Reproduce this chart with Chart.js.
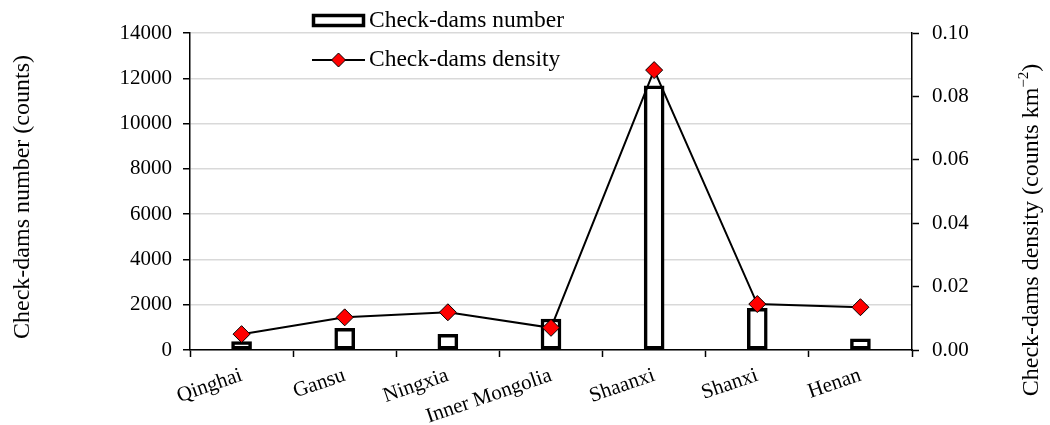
<!DOCTYPE html>
<html>
<head>
<meta charset="utf-8">
<script src="https://cdn.jsdelivr.net/npm/chart.js@4"></script>
<style>
    html, body { margin: 0; padding: 0; background: #fff; }
    #wrap { width: 1050px; height: 425px; position: relative; }
</style>
</head>
<body>
<div id="wrap"><canvas id="myChart" width="1050" height="425"></canvas></div>
<script>
const provinces = ["Qinghai", "Gansu", "Ningxia", "Inner Mongolia", "Shaanxi", "Shanxi", "Henan"];
const damsNumber = [370, 960, 690, 1370, 11670, 1840, 490];
const damsDensity = [0.0050, 0.0103, 0.0119, 0.0070, 0.0883, 0.0145, 0.0135];
const leftTicks = [0, 2000, 4000, 6000, 8000, 10000, 12000, 14000];
const rightTicks = [0, 0.02, 0.04, 0.06, 0.08, 0.10];

const FONT = "'Liberation Serif', 'Times New Roman', serif";

// legend + axis titles drawn by hand
const extras = {
    id: "extras",
    afterDraw(chart) {
        const c = chart.ctx;
        c.save();
        c.fillStyle = "#000";
        c.font = "23.5px " + FONT;
        c.textBaseline = "middle";
        c.textAlign = "left";

        // legend: bar item
        c.fillStyle = "#fff";
        c.fillRect(312, 14, 53, 13);
        c.strokeStyle = "#000";
        c.lineWidth = 3.5;
        c.strokeRect(313.5, 15.5, 50, 10);
        c.fillStyle = "#000";
        c.fillText("Check-dams number", 369, 21);

        // legend: line item
        c.lineWidth = 2;
        c.beginPath();
        c.moveTo(312, 60);
        c.lineTo(365, 60);
        c.stroke();
        c.beginPath();
        c.moveTo(338.5, 53);
        c.lineTo(345.5, 60);
        c.lineTo(338.5, 67);
        c.lineTo(331.5, 60);
        c.closePath();
        c.fillStyle = "#ff0000";
        c.fill();
        c.lineWidth = 1;
        c.stroke();
        c.fillStyle = "#000";
        c.fillText("Check-dams density", 369, 60);

        // left title
        c.save();
        c.translate(23, 197);
        c.rotate(-Math.PI / 2);
        c.textAlign = "center";
        c.font = "24px " + FONT;
        c.fillText("Check-dams number (counts)", 0, 0);
        c.restore();

        // right title with superscript
        c.save();
        c.translate(1032, 230);
        c.rotate(-Math.PI / 2);
        c.font = "24px " + FONT;
        const main = "Check-dams density (counts km";
        const sup = "\u22122";
        const close = ")";
        const wMain = c.measureText(main).width;
        c.font = "15px " + FONT;
        const wSup = c.measureText(sup).width;
        c.font = "24px " + FONT;
        const wClose = c.measureText(close).width;
        let x = -(wMain + wSup + wClose) / 2;
        c.textAlign = "left";
        c.fillText(main, x, 0);
        x += wMain;
        c.font = "15px " + FONT;
        c.fillText(sup, x, -8);
        x += wSup;
        c.font = "24px " + FONT;
        c.fillText(close, x, 0);
        c.restore();

        c.restore();
    }
};

const ctx = document.getElementById("myChart").getContext("2d");

const chart = new Chart(ctx, {
    type: "bar",
    data: {
        labels: provinces,
        datasets: [
            {
                type: "line",
                label: "Check-dams density",
                data: damsDensity,
                yAxisID: "y1",
                borderColor: "#000",
                borderWidth: 2,
                pointStyle: "rectRot",
                pointRadius: 8.5,
                pointBackgroundColor: "#ff0000",
                pointBorderColor: "#000",
                pointBorderWidth: 1,
                tension: 0,
                order: 0,
            },
            {
                label: "Check-dams number",
                data: damsNumber,
                yAxisID: "y",
                backgroundColor: "#fff",
                borderColor: "#000",
                borderWidth: 3.5,
                borderSkipped: false,
                barThickness: 20,
                order: 1,
            },
        ],
    },
    options: {
        responsive: false,
        animation: false,
        layout: { padding: { top: 33, left: 0, right: 0, bottom: 0 } },
        plugins: {
            legend: { display: false },
            tooltip: { enabled: false },
        },
        scales: {
            x: {
                offset: true,
                grid: {
                    offset: true,
                    drawOnChartArea: false,
                    tickColor: "#000",
                    tickLength: 7,
                    tickWidth: 1.5,
                },
                border: { color: "#000", width: 1.5 },
                ticks: {
                    color: "#000",
                    font: { family: FONT, size: 21 },
                    minRotation: 19,
                    maxRotation: 19,
                    padding: 6,
                    autoSkip: false,
                },
                afterFit: (s) => { s.height = 75; },
            },
            y: {
                position: "left",
                min: 0,
                max: 14000,
                afterBuildTicks: (s) => { s.ticks = leftTicks.map((v) => ({ value: v })); },
                grid: {
                    color: "#d9d9d9",
                    lineWidth: 1.5,
                    tickColor: "#000",
                    tickLength: 7,
                    tickWidth: 1.5,
                },
                border: { color: "#000", width: 1.5 },
                ticks: {
                    color: "#000",
                    font: { family: FONT, size: 21 },
                    padding: 11,
                    callback: (v) => String(v),
                },
                afterFit: (s) => { s.width = 190; },
            },
            y1: {
                position: "right",
                min: 0,
                max: 0.1,
                afterBuildTicks: (s) => { s.ticks = rightTicks.map((v) => ({ value: v })); },
                grid: {
                    drawOnChartArea: false,
                    tickColor: "#000",
                    tickLength: 7,
                    tickWidth: 1.5,
                },
                border: { color: "#000", width: 1.5 },
                ticks: {
                    color: "#000",
                    font: { family: FONT, size: 21 },
                    padding: 13,
                    callback: (v) => Number(v).toFixed(2),
                },
                afterFit: (s) => { s.width = 138; },
            },
        },
    },
    plugins: [extras],
});
</script>
</body>
</html>
